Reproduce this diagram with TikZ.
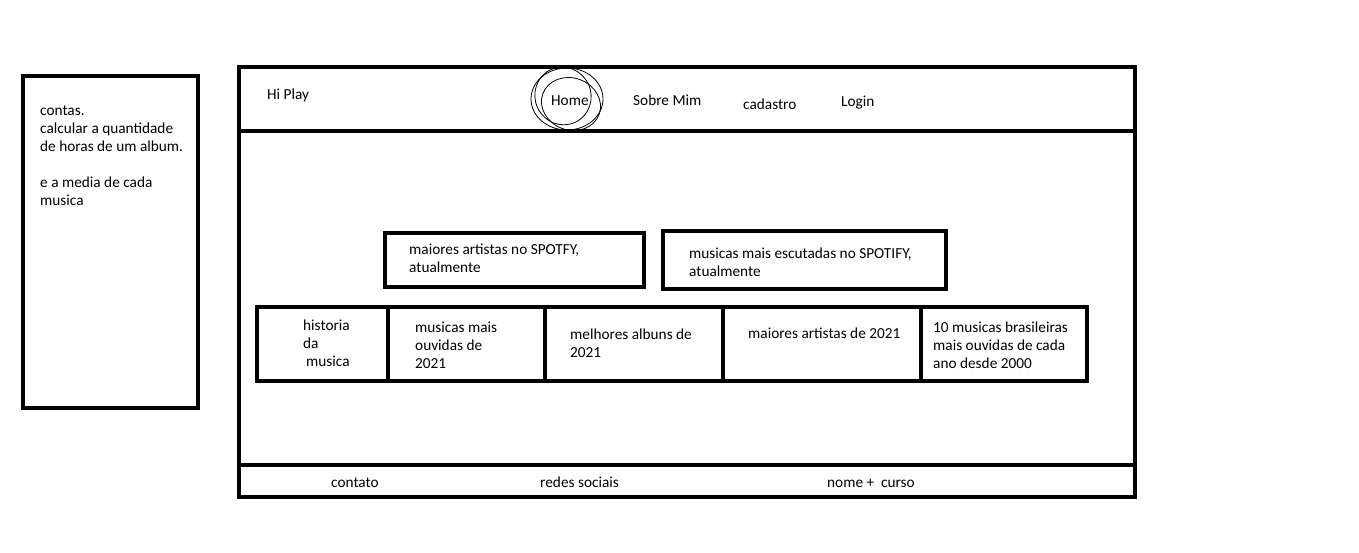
\documentclass[tikz,border=0pt]{standalone}
\usepackage{fontspec}
\setmainfont{Carlito}
\usetikzlibrary{positioning}

\begin{document}
\begin{tikzpicture}[x=1pt,y=-1pt,
    linha/.style={line width=4pt},
    rabisco/.style={line width=0.8pt},
    texto/.style={inner sep=0pt,anchor=west,align=left,font=\fontsize{15.3}{18}\selectfont},
    rotulo/.style={texto,anchor=base west}]
        % Paso 1: Fija el lienzo con las proporciones del boceto
        \useasboundingbox (0,0) rectangle (1359,553);

        % Paso 2: Dibuja la caja de notas de la izquierda
        \draw[linha] (23,76) rectangle (198,408);
        \node[texto] (notas) at (40,156) {contas.\\calcular a quantidade\\de horas de um album.\\[18pt]e a media de cada\\musica};

        % Paso 3: Dibuja el marco de la pagina, la cabecera y el pie
        \draw[linha] (239,67) rectangle (1135,497);
        \draw[linha] (239,131) -- (1135,131);
        \draw[linha] (239,465) -- (1135,465);

        % Paso 4: Escribe el menu de la cabecera
        \node[rotulo] (logo) at (267,100) {Hi Play};
        \node[rotulo] (home) at (551,106) {Home};
        \node[rotulo] (sobre) at (633,106) {Sobre Mim};
        \node[rotulo] (cadastro) at (743,110) {cadastro};
        \node[rotulo] (login) at (841,107) {Login};

        % Paso 5: Garabatea los circulos alrededor de Home
        \draw[rabisco] (567,99) ellipse [x radius=36, y radius=31];
        \draw[rabisco,rotate around={-20:(571,104)}] (571,104) ellipse [x radius=30, y radius=26];
        \draw[rabisco,rotate around={25:(563,96)}] (563,96) ellipse [x radius=28, y radius=29];

        % Paso 6: Dibuja las dos cajas de destaque
        \draw[linha] (385,233) rectangle (644,287);
        \node[texto] (artistas) at (409,258) {maiores artistas no SPOTFY,\\atualmente};
        \draw[linha] (663,231) rectangle (946,289);
        \node[texto] (musicas) at (689,262) {musicas mais escutadas no SPOTIFY,\\atualmente};

        % Paso 7: Dibuja la fila de secciones y sus divisiones
        \draw[linha] (257,307) rectangle (1087,381);
        \foreach \x in {388,545,723,921}
            \draw[linha] (\x,307) -- (\x,383);

        % Paso 8: Escribe el texto de cada seccion
        \node[texto] (historia) at (303,343) {historia\\da\\\hspace{3pt}musica};
        \node[texto] (ouvidas) at (415,345) {musicas mais\\ouvidas de\\2021};
        \node[texto] (albuns) at (570,343) {melhores albuns de\\2021};
        \node[rotulo] (maiores) at (748,338) {maiores artistas de 2021};
        \node[texto] (brasil) at (933,345) {10 musicas brasileiras\\mais ouvidas de cada\\ano desde 2000};

        % Paso 9: Escribe el pie de la pagina
        \node[rotulo] (contato) at (331,487) {contato};
        \node[rotulo] (redes) at (540,487) {redes sociais};
        \node[rotulo] (nome) at (827,487) {nome +\ \ curso};
    \end{tikzpicture}
\end{document}
